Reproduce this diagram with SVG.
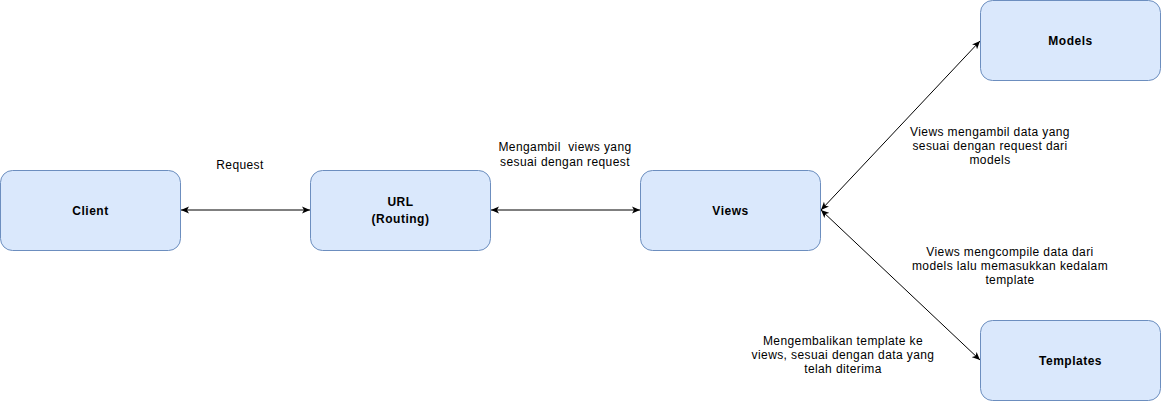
<svg xmlns="http://www.w3.org/2000/svg" width="1162" height="401" viewBox="0 0 1162 401">
<style>
.node{fill:#dae8fc;stroke:#6c8ebf;stroke-width:1}
.nl{font-family:"Liberation Sans",Arial,sans-serif;font-size:12px;font-weight:bold;fill:#000;text-anchor:middle;letter-spacing:0.5px}
.el{font-family:"Liberation Sans",Arial,sans-serif;font-size:12px;fill:#000;text-anchor:middle;letter-spacing:0.4px;white-space:pre}
.edge{stroke:#000;stroke-width:1;fill:none;marker-start:url(#arr);marker-end:url(#arr)}
</style>
<defs>
<marker id="arr" viewBox="0 0 8 8" refX="8" refY="4" markerWidth="8" markerHeight="8" markerUnits="userSpaceOnUse" orient="auto-start-reverse">
<path d="M0,0.5 L8,4 L0,7.5 L2,4 Z" fill="#000"/>
</marker>
</defs>
<rect width="1162" height="401" fill="#fff"/>
<g id="connectors">
<line class="edge" x1="181" y1="210" x2="310" y2="210"/>
<line class="edge" x1="491" y1="210" x2="640" y2="210"/>
<line class="edge" x1="821" y1="210" x2="980" y2="41"/>
<line class="edge" x1="821" y1="210" x2="980" y2="360"/>
</g>
<g id="client"><rect class="node" x="0.5" y="170.5" width="180" height="80" rx="12"/><text class="nl" x="90.5" y="215">Client</text></g>
<g id="url"><rect class="node" x="310.5" y="170.5" width="180" height="80" rx="12"/><text class="nl" x="400.5" y="206">URL</text><text class="nl" x="400.5" y="223">(Routing)</text></g>
<g id="views"><rect class="node" x="640.5" y="170.5" width="180" height="80" rx="12"/><text class="nl" x="730.5" y="215">Views</text></g>
<g id="models"><rect class="node" x="980.5" y="0.5" width="180" height="80" rx="12"/><text class="nl" x="1070.5" y="45">Models</text></g>
<g id="templates"><rect class="node" x="980.5" y="320.5" width="180" height="80" rx="12"/><text class="nl" x="1070.5" y="365">Templates</text></g>
<g id="labels">
<text class="el" x="240" y="169">Request</text>
<text class="el" x="565" y="151" xml:space="preserve">Mengambil  views yang</text>
<text class="el" x="565" y="166">sesuai dengan request</text>
<text class="el" x="990" y="136">Views mengambil data yang</text>
<text class="el" x="990" y="150">sesuai dengan request dari</text>
<text class="el" x="990" y="164">models</text>
<text class="el" x="1010" y="256">Views mengcompile data dari</text>
<text class="el" x="1010" y="270">models lalu memasukkan kedalam</text>
<text class="el" x="1010" y="284">template</text>
<text class="el" x="843" y="345">Mengembalikan template ke</text>
<text class="el" x="843" y="359">views, sesuai dengan data yang</text>
<text class="el" x="843" y="373">telah diterima</text>
</g>
</svg>
